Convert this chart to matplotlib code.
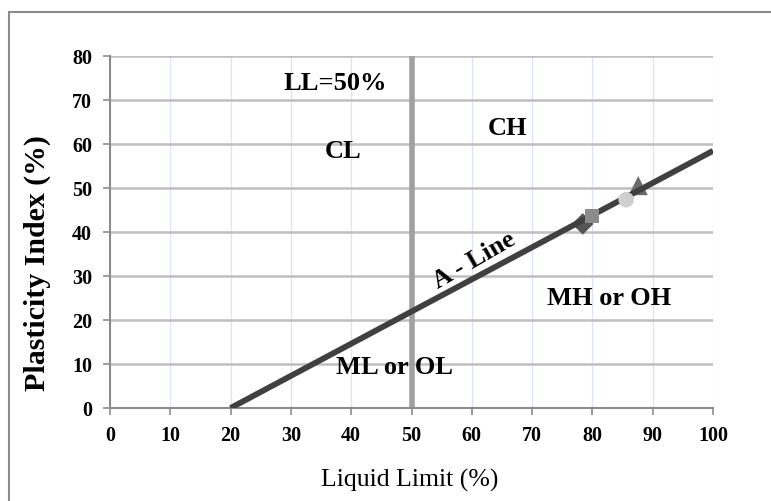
import matplotlib
matplotlib.use("Agg")
import matplotlib.pyplot as plt
import numpy as np
from matplotlib.patches import Rectangle

plt.rcParams['font.family'] = ['Liberation Serif', 'DejaVu Serif']

# Data
aline_ll = [20, 100]
aline_pi = [0, 58.4]
ll50_x = [50, 50]
ll50_y = [0, 80]
samples_ll = [78.4, 79.9, 85.6, 87.6]
samples_pi = [41.8, 43.6, 47.3, 50.5]
sample_markers = ['D', 's', 'o', '^']
sample_colors = ['#555555', '#8c8c8c', '#cfcfcf', '#6b6b6b']
sample_sizes = [120, 110, 125, 190]
sample_z = [2.5, 4, 4, 2.5]
x_ticks = list(range(0, 101, 10))
y_ticks = list(range(0, 81, 10))

fig = plt.figure(figsize=(7.71, 5.02), dpi=100)
ax = fig.add_axes([110/771, 1-409/502, (713-110)/771, (409-56.7)/502])

ax.set_xlim(0, 100)
ax.set_ylim(0, 80)
ax.set_xticks(x_ticks)
ax.set_yticks(y_ticks)

# gridlines
for y in y_ticks[1:]:
    ax.axhline(y, color='#bfbfbf', lw=1.8, zorder=1)
for x in x_ticks[1:]:
    ax.axvline(x, color='#dde3f0', lw=0.9, zorder=0.5)

ax.plot(ll50_x, ll50_y, color='#a0a0a0', lw=4, zorder=2, solid_capstyle='butt')
ax.plot(aline_ll, aline_pi, color='#404040', lw=4.2, zorder=3, solid_capstyle='butt')

for lx, py, m, c, s, z in zip(samples_ll, samples_pi, sample_markers, sample_colors, sample_sizes, sample_z):
    ax.scatter([lx], [py], marker=m, color=c, s=s, zorder=z, edgecolors='none')

for s in ['top', 'right']:
    ax.spines[s].set_visible(False)
for s in ['left', 'bottom']:
    ax.spines[s].set_color('#8c8c8c')
    ax.spines[s].set_linewidth(1.5)
ax.tick_params(direction='out', length=5, width=1.2, color='#8c8c8c', labelsize=14.5)
for lab in ax.get_xticklabels() + ax.get_yticklabels():
    lab.set_fontweight('bold')
ax.tick_params(axis='x', pad=7)
ax.tick_params(axis='y', pad=8)

fig.text(410/771, 1-480/502, 'Liquid Limit (%)', fontsize=18.5, ha='center', va='center')
fig.text(37/771, 1-263/502, 'Plasticity Index (%)', fontsize=21.5, fontweight='bold',
         rotation=90, ha='center', va='center')

tk = dict(fontsize=19, fontweight='bold', ha='center', va='center', zorder=5)
ax.text(37.4, 73.9, 'LL=50%', **tk)
ax.text(38.6, 58.5, 'CL', **tk)
ax.text(66.0, 63.6, 'CH', **tk)
ax.text(60.4, 33.6, 'A - Line', rotation=30, rotation_mode='anchor', **tk)
ax.text(82.8, 25.2, 'MH or OH', **tk)
ax.text(47.1, 9.4, 'ML or OL', **tk)

fig.patches.append(Rectangle((9/771, -0.1), 2, 1 - 13/502 + 0.1, transform=fig.transFigure,
                             fill=False, edgecolor='#8c8c8c', lw=1.5, clip_on=False))

fig.savefig('out.png', dpi=100)
